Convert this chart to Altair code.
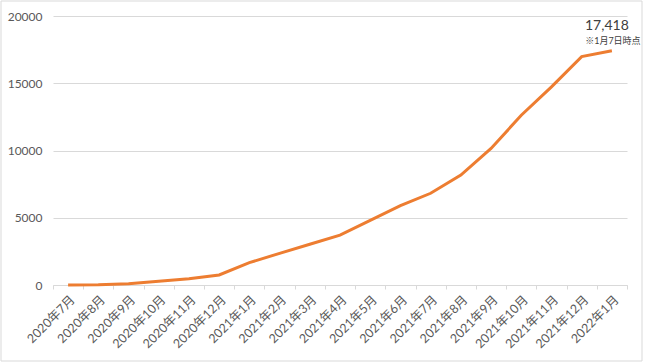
import altair as alt
import pandas as pd

months = ["2020年7月", "2020年8月", "2020年9月", "2020年10月", "2020年11月", "2020年12月",
          "2021年1月", "2021年2月", "2021年3月", "2021年4月", "2021年5月", "2021年6月",
          "2021年7月", "2021年8月", "2021年9月", "2021年10月", "2021年11月", "2021年12月",
          "2022年1月"]
values = [0, 20, 100, 270, 460, 750, 1660, 2350, 3030, 3710, 4800, 5900, 6820, 8170,
          10150, 12620, 14730, 16980, 17418]
y_ticks = [0, 2500, 5000, 7500, 10000, 12500, 15000, 17500, 20000]
note_value = "17,418"
note_sub = "※1月7日時点"

df = pd.DataFrame({"month": months, "value": values})
last = df.tail(1).copy()

FONT = "Lato, 'Noto Sans CJK JP', sans-serif"

x = alt.X("month:N", sort=months, title=None,
          scale=alt.Scale(type="band", paddingInner=0, paddingOuter=0),
          axis=alt.Axis(labelAngle=-45, labelColor="#595959", labelFontSize=12.5,
                        labelFont=FONT, domainColor="#d9d9d9", tickColor="#d9d9d9",
                        tickSize=4, tickBand="extent", labelPadding=4, grid=False))
y = alt.Y("value:Q", title=None,
          scale=alt.Scale(domain=[0, 20000], nice=False),
          axis=alt.Axis(values=y_ticks, format="d", labelColor="#595959", labelFontSize=12,
                        labelFont=FONT, domain=False, ticks=False, labelPadding=11,
                        gridColor="#d9d9d9", gridWidth=1))

line = alt.Chart(df).mark_line(color="#ED7D31", strokeWidth=3).encode(x=x, y=y)

t1 = alt.Chart(last).mark_text(text=note_value, fontSize=14, font=FONT, color="#404040",
                               dx=-5, dy=-21, baseline="alphabetic", align="center").encode(
    x=alt.X("month:N", sort=months), y="value:Q")
t2 = alt.Chart(last).mark_text(text=note_sub, fontSize=9, font=FONT, color="#404040",
                               dx=1, dy=-7, baseline="alphabetic", align="center").encode(
    x=alt.X("month:N", sort=months), y="value:Q")

frame = alt.Chart(pd.DataFrame({"a": [0]})).mark_rect(
    fill=None, stroke="#d9d9d9", strokeWidth=1).encode(
    x=alt.value(-52), x2=alt.value(589), y=alt.value(-15), y2=alt.value(345))

chart = alt.layer(line, t1, t2, frame).properties(
    width=574, height=269,
    autosize=alt.AutoSizeParams(type="none"),
    padding={"left": 53, "top": 16, "right": 23, "bottom": 78},
    background="white",
).configure_view(stroke=None)

chart.save("out.html", embed_options={"renderer": "svg", "actions": False})
